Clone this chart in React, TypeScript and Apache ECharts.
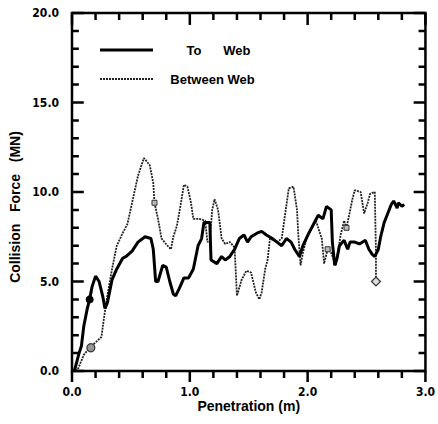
import React, { useEffect, useRef } from "react";
import * as echarts from "echarts";

// Penetration (m) / Collision Force (MN)
const toWeb: [number, number][] = [
  [0.02, 0.0], [0.04, 0.5], [0.06, 1.0], [0.08, 1.4], [0.10, 2.5], [0.13, 3.5], [0.15, 4.0],
  [0.17, 4.7], [0.20, 5.3], [0.23, 5.0], [0.26, 4.2], [0.28, 3.5], [0.30, 3.8], [0.34, 5.1],
  [0.38, 5.7], [0.43, 6.3], [0.46, 6.4], [0.51, 6.7], [0.56, 7.2], [0.62, 7.5], [0.67, 7.4],
  [0.69, 6.8], [0.71, 5.0], [0.73, 5.0], [0.77, 5.9], [0.80, 5.8], [0.83, 5.0], [0.86, 4.3],
  [0.88, 4.2], [0.91, 4.6], [0.95, 5.2], [0.99, 5.2], [1.03, 5.7], [1.07, 7.0], [1.10, 7.4],
  [1.12, 8.3], [1.17, 8.3], [1.18, 6.2], [1.23, 6.0], [1.27, 6.4], [1.30, 6.2], [1.34, 6.4],
  [1.38, 6.8], [1.42, 7.4], [1.46, 7.6], [1.49, 7.2], [1.52, 7.5], [1.57, 7.7], [1.61, 7.8],
  [1.65, 7.6], [1.70, 7.4], [1.74, 7.2], [1.78, 7.0], [1.82, 7.4], [1.86, 7.2], [1.89, 6.8],
  [1.93, 6.4], [1.96, 7.0], [2.01, 7.7], [2.05, 8.2], [2.09, 8.7], [2.13, 8.5], [2.16, 9.2],
  [2.20, 9.0], [2.21, 7.2], [2.23, 5.9], [2.25, 6.3], [2.27, 7.0], [2.31, 7.3], [2.34, 6.8],
  [2.36, 7.2], [2.40, 7.2], [2.44, 7.1], [2.49, 7.3], [2.52, 6.8], [2.55, 6.5], [2.57, 6.4],
  [2.60, 6.8], [2.62, 7.5], [2.65, 8.3], [2.68, 8.8], [2.71, 9.3], [2.73, 9.5], [2.76, 9.1],
  [2.77, 9.4], [2.80, 9.2], [2.82, 9.3],
];

const betweenWeb: [number, number][] = [
  [0.03, 0.0], [0.05, 0.1], [0.10, 0.9], [0.15, 1.3], [0.20, 1.6], [0.25, 1.9], [0.27, 2.9],
  [0.30, 4.2], [0.34, 5.7], [0.38, 7.0], [0.43, 7.7], [0.47, 8.2], [0.51, 9.4], [0.56, 10.9],
  [0.58, 11.3], [0.61, 11.9], [0.66, 11.5], [0.69, 10.5], [0.70, 9.4], [0.73, 8.5], [0.76, 7.4],
  [0.81, 7.0], [0.84, 6.8], [0.86, 7.5], [0.89, 8.1], [0.92, 9.2], [0.95, 10.4], [0.98, 10.3],
  [1.01, 9.4], [1.03, 8.5], [1.08, 8.5], [1.13, 8.4], [1.15, 7.2], [1.17, 7.3], [1.19, 9.0],
  [1.21, 9.6], [1.24, 9.0], [1.27, 7.4], [1.30, 7.1], [1.34, 7.2], [1.38, 6.9], [1.40, 4.2],
  [1.44, 5.1], [1.48, 5.6], [1.52, 5.5], [1.56, 4.4], [1.59, 4.0], [1.61, 4.4], [1.64, 5.7],
  [1.66, 6.2], [1.68, 7.4], [1.74, 7.2], [1.78, 7.4], [1.81, 8.8], [1.84, 10.2], [1.88, 10.3],
  [1.91, 9.0], [1.92, 7.7], [1.94, 5.9], [1.96, 6.6], [1.99, 7.4], [2.03, 7.9], [2.07, 8.4],
  [2.12, 7.4], [2.14, 6.0], [2.17, 6.8], [2.20, 6.6], [2.24, 5.9], [2.28, 7.6], [2.31, 8.4],
  [2.33, 8.0], [2.38, 9.6], [2.40, 10.1], [2.45, 10.0], [2.48, 8.8], [2.51, 9.4], [2.53, 9.9],
  [2.57, 10.0], [2.58, 6.6], [2.58, 5.0],
];

const toWebMarkers: [number, number][] = [[0.15, 4.0]];
const betweenCircleMarkers: [number, number][] = [[0.16, 1.3]];
const betweenSquareMarkers: [number, number][] = [[0.70, 9.4], [2.17, 6.8], [2.33, 8.0]];
const betweenDiamondMarkers: [number, number][] = [[2.58, 5.0]];

const xTicks = { min: 0, max: 3, interval: 1 };
const yTicks = { min: 0, max: 20, interval: 5 };
const xTickValues = [
  0, 0.2, 0.4, 0.6, 0.8, 1, 1.2, 1.4, 1.6, 1.8, 2, 2.2, 2.4, 2.6, 2.8, 3,
];
const yTickValues = [
  0, 1, 2, 3, 4, 5, 6, 7, 8, 9, 10, 11, 12, 13, 14, 15, 16, 17, 18, 19, 20,
];
const seriesNames = ["To      Web", "Between Web"];

const labelFont = "'Liberation Sans Narrow', 'DejaVu Sans Condensed', 'Liberation Sans', sans-serif";
const nameFont = "'Liberation Sans', Arial, sans-serif";

const isMajor = (v: number, step: number) => Math.abs(v / step - Math.round(v / step)) < 1e-6;

// tick lengths expressed in axis units (plot is ~360 px wide for 3 m, ~358 px tall for 20 MN)
const X_UNIT_PX = 120;
const Y_UNIT_PX = 17.9;

// marker-only series drawn as line series with an invisible line
const markerSeries = (data: [number, number][], symbol: string, size: number, itemStyle: any) => ({
  type: "line",
  data,
  symbol,
  symbolSize: size,
  showSymbol: true,
  showAllSymbol: true,
  lineStyle: { width: 0, opacity: 0 },
  itemStyle,
  z: 4,
});

type Pt = [number, number | string];

const buildXTickData = (): Pt[] => {
  const out: Pt[] = [];
  xTickValues.forEach((v) => {
    const major = isMajor(v, xTicks.interval);
    const down = (major ? 11 : 7) / Y_UNIT_PX;
    const inTop = (major ? 12 : 7) / Y_UNIT_PX;
    out.push([v, yTicks.min], [v, yTicks.min - down], [v, "-"]);
    out.push([v, yTicks.max], [v, yTicks.max - inTop], [v, "-"]);
  });
  return out;
};

const buildYTickData = (): Pt[] => {
  const out: Pt[] = [];
  yTickValues.forEach((v) => {
    const major = isMajor(v, yTicks.interval);
    const len = (major ? 12 : 7) / X_UNIT_PX;
    out.push([xTicks.min, v], [xTicks.min + len, v], ["-", v]);
    out.push([xTicks.max, v], [xTicks.max - len, v], ["-", v]);
  });
  return out;
};

const tickSeries = (data: Pt[]) => ({
  type: "line",
  data,
  showSymbol: false,
  symbol: "none",
  connectNulls: false,
  clip: false,
  silent: true,
  lineStyle: { color: "#000", width: 2.5, cap: "butt" },
  itemStyle: { color: "#000" },
  z: 10,
});

export default function App() {
  const ref = useRef<HTMLDivElement>(null);
  useEffect(() => {
    if (!ref.current) return;
    const chart = echarts.init(ref.current, null, { renderer: "svg" });
    const labelStyle = {
      color: "#000",
      fontFamily: labelFont,
      fontWeight: "bold" as const,
      fontSize: 12,
    };
    const thinStyle = { color: "#222", width: 1.8, type: [2, 1] as number[] };
    chart.setOption({
      animation: false,
      grid: {
        left: 72,
        right: 6,
        top: 13,
        bottom: 53,
        show: true,
        borderColor: "#000",
        borderWidth: 2.5,
        backgroundColor: "transparent",
      },
      xAxis: {
        type: "value",
        min: xTicks.min,
        max: xTicks.max,
        interval: xTicks.interval,
        axisLine: { show: false },
        axisTick: { show: false },
        minorTick: { show: false },
        axisLabel: { ...labelStyle, margin: 15, formatter: (v: number) => v.toFixed(1) },
        splitLine: { show: false },
        name: "Penetration (m)",
        nameLocation: "middle",
        nameGap: 28,
        nameMoveOverlap: false,
        nameTextStyle: { color: "#000", fontFamily: nameFont, fontWeight: "bold", fontSize: 14 },
      },
      yAxis: {
        type: "value",
        min: yTicks.min,
        max: yTicks.max,
        interval: yTicks.interval,
        axisLine: { show: false },
        axisTick: { show: false },
        minorTick: { show: false },
        axisLabel: { ...labelStyle, margin: 13, formatter: (v: number) => v.toFixed(1) },
        splitLine: { show: false },
      },
      graphic: [
        {
          type: "text",
          x: 15,
          y: 207,
          rotation: Math.PI / 2,
          style: {
            text: "Collision   Force   (MN)",
            fill: "#000",
            font: `bold 14px ${nameFont}`,
            align: "center",
            verticalAlign: "middle",
          },
        },
        { type: "line", shape: { x1: 100, y1: 50, x2: 153, y2: 50 }, style: { stroke: "#000", lineWidth: 3 } },
        {
          type: "text",
          x: 218.5,
          y: 50,
          style: { text: seriesNames[0], fill: "#000", font: `bold 13px ${nameFont}`, align: "center", verticalAlign: "middle" },
        },
        {
          type: "line",
          shape: { x1: 100, y1: 79, x2: 153, y2: 79 },
          style: { stroke: thinStyle.color, lineWidth: thinStyle.width, lineDash: thinStyle.type },
        },
        {
          type: "text",
          x: 212.5,
          y: 79,
          style: { text: seriesNames[1], fill: "#000", font: `bold 13px ${nameFont}`, align: "center", verticalAlign: "middle" },
        },
      ],
      series: [
        {
          name: seriesNames[1],
          type: "line",
          data: betweenWeb,
          showSymbol: false,
          lineStyle: thinStyle,
          itemStyle: { color: thinStyle.color },
          z: 2,
        },
        {
          name: seriesNames[0],
          type: "line",
          data: toWeb,
          showSymbol: false,
          lineStyle: { color: "#000", width: 3 },
          itemStyle: { color: "#000" },
          z: 3,
        },
        markerSeries(toWebMarkers, "circle", 8, { color: "#000" }),
        markerSeries(betweenCircleMarkers, "circle", 8, { color: "#999", borderColor: "#333", borderWidth: 1.2 }),
        markerSeries(betweenSquareMarkers, "rect", 5, { color: "#bbb", borderColor: "#333", borderWidth: 1 }),
        markerSeries(betweenDiamondMarkers, "diamond", 9, { color: "#ddd", borderColor: "#333", borderWidth: 1.2 }),
        tickSeries(buildXTickData()),
        tickSeries(buildYTickData()),
      ],
    });
    return () => chart.dispose();
  }, []);
  return <div ref={ref} style={{ width: 438, height: 424, position: "absolute", left: 0, top: 0 }} />;
}
